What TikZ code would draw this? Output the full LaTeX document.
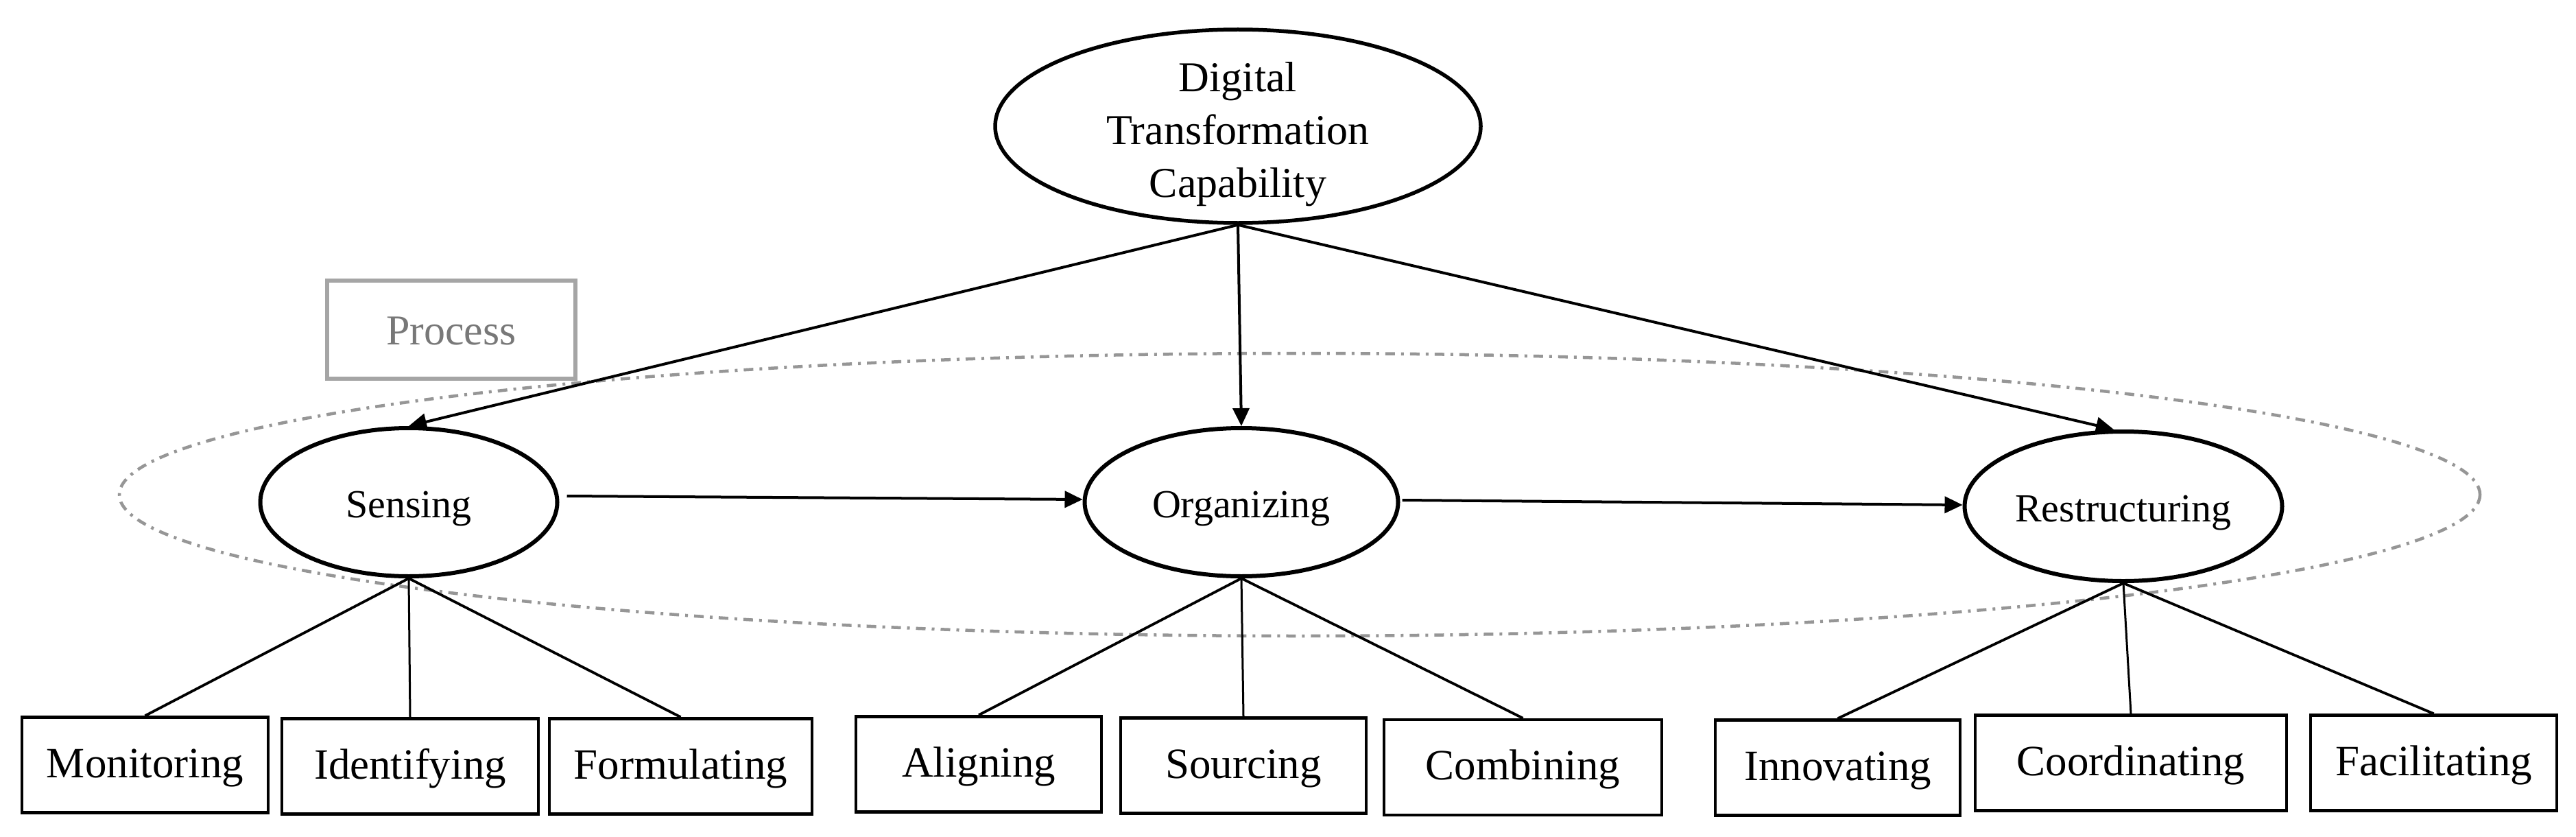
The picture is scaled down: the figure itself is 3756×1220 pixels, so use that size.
\documentclass[tikz,border=0pt]{standalone}
\usepackage{fontspec}
\setmainfont{Liberation Serif}
\usetikzlibrary{arrows.meta,shapes.geometric}
\definecolor{procborder}{RGB}{165,165,165}
\definecolor{proctext}{RGB}{120,120,120}
\definecolor{dashgray}{RGB}{150,150,150}
\begin{document}
\begin{tikzpicture}[x=1pt,y=-1pt,
  topell/.style={draw, ellipse, line width=5.5pt, inner xsep=0pt, inner ysep=-25pt,
    minimum width=708pt, minimum height=282pt, align=center,
    font=\fontsize{62pt}{77pt}\selectfont},
  midell/.style={draw, ellipse, line width=6pt, inner sep=0pt, minimum height=216pt,
    font=\fontsize{58pt}{70pt}\selectfont, text height=52pt, text depth=8pt},
  leaf/.style={draw, rectangle, line width=4.5pt, inner sep=0pt, minimum height=139pt,
    font=\fontsize{63pt}{75pt}\selectfont, text height=47pt, text depth=11pt},
  procbox/.style={draw=procborder, text=proctext, rectangle, line width=5.5pt, inner sep=0pt,
    minimum width=362pt, minimum height=143pt,
    font=\fontsize{62pt}{75pt}\selectfont, text height=56pt, text depth=12pt},
  arr/.style={line width=4pt, -{Triangle[length=26pt,width=24pt]}},
  link/.style={line width=3.8pt},
  vlink/.style={line width=3pt},
  procring/.style={draw=dashgray, line width=4.5pt, dash pattern=on 14pt off 9pt on 4pt off 9pt}
]
\useasboundingbox (0,0) rectangle (3756,1220);
\fill[white] (0,0) rectangle (3756,1220);

% process ring
\draw[procring] (1895,721) ellipse [x radius=1721, y radius=206];

% process label
\node[procbox] (P) at (658,480.5) {Process};

% top node
\node[topell] (T) at (1805,184) {\rule{0pt}{66pt}Digital\\Transformation\\Capability};

% middle nodes
\node[midell, minimum width=433pt] (S) at (596,732) {Sensing};
\node[midell, minimum width=457pt] (O) at (1810,732) {Organizing};
\node[midell, minimum width=463pt, minimum height=218pt] (R) at (3096,738) {Restructuring};

% leaves
\node[leaf, minimum width=359pt] (L1) at (211.5,1115) {Monitoring};
\node[leaf, minimum width=374pt] (L2) at (598,1117) {Identifying};
\node[leaf, minimum width=383pt] (L3) at (992.5,1117) {Formulating};
\node[leaf, minimum width=358pt] (L4) at (1427,1114) {Aligning};
\node[leaf, minimum width=358pt] (L5) at (1813,1116) {Sourcing};
\node[leaf, minimum width=405pt] (L6) at (2220.5,1118.5) {Combining};
\node[leaf, minimum width=357pt] (L7) at (2679.5,1119) {Innovating};
\node[leaf, minimum width=454pt] (L8) at (3107,1112) {Coordinating};
\node[leaf, minimum width=359pt] (L9) at (3548.5,1112) {Facilitating};

% arrows from top
\draw[arr] (T.south) -- (S.north);
\draw[arr] (T.south) -- (O.north);
\draw[arr] (T.south) -- ([xshift=-14pt]R.north);

% process arrows
\draw[arr] ([xshift=11pt,yshift=9pt]S.east) -- ([yshift=4pt]O.west);
\draw[arr] ([xshift=3pt,yshift=3pt]O.east) -- ([yshift=2pt]R.west);

% links to leaves
\draw[link] (S.south) -- (L1.north);
\draw[vlink] (S.south) -- (L2.north);
\draw[link] (S.south) -- (L3.north);
\draw[link] (O.south) -- (L4.north);
\draw[vlink] (O.south) -- (L5.north);
\draw[link] (O.south) -- (L6.north);
\draw[link] (R.south) -- (L7.north);
\draw[vlink] (R.south) -- (L8.north);
\draw[link] (R.south) -- (L9.north);
\end{tikzpicture}
\end{document}
